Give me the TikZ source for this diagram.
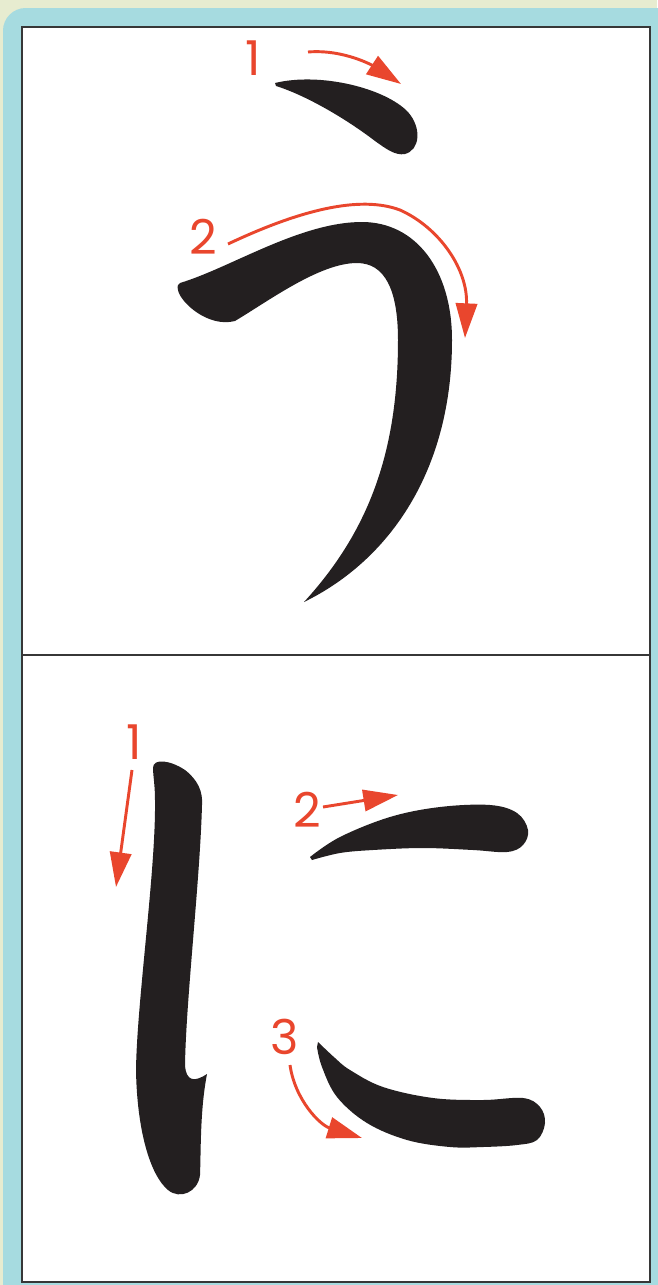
\documentclass[tikz,border=0pt]{standalone}
\usepackage{fontspec}
\setmainfont{Poppins}
\usetikzlibrary{arrows.meta}
\definecolor{bgbeige}{RGB}{231,236,208}
\definecolor{frameblue}{RGB}{166,219,224}
\definecolor{strokered}{RGB}{233,70,45}
\definecolor{inkcol}{RGB}{35,31,32}
\definecolor{panelline}{RGB}{55,55,55}
\begin{document}
\begin{tikzpicture}[x=0.75pt,y=-0.75pt,
  arr/.style={draw=strokered,line width=2.2pt,-{Triangle[length=26pt,width=16pt]}},
  num/.style={text=strokered,font=\fontsize{36}{36}\selectfont,inner sep=0pt},
  brush/.style={fill=inkcol}]
\useasboundingbox (0,0) rectangle (657,1285);
\fill[bgbeige] (0,0) rectangle (657,1285);
\fill[frameblue,rounded corners=17pt] (3,8) rectangle (690,1320);
\fill[white] (22,27) rectangle (650,1282);
\draw[panelline,line width=1.5pt] (22,27) rectangle (650,1282);
\draw[panelline,line width=1.5pt] (22,655) -- (650,655);

% ---- u : stroke 1
\fill[brush] (275,83) .. controls (320,72) and (385,88) .. (408,112)
  .. controls (422,128) and (420,150) .. (405,154)
  .. controls (395,156) and (385,148) .. (375,141)
  .. controls (345,118) and (305,95) .. (276,86) -- cycle;
% ---- u : stroke 2
\fill[brush] (180,283) .. controls (230,268) and (300,222) .. (362,222)
  .. controls (416,222) and (452,270) .. (452,340)
  .. controls (452,470) and (390,560) .. (304,602)
  .. controls (370,530) and (398,450) .. (398,340)
  .. controls (398,290) and (385,263) .. (357,263)
  .. controls (320,263) and (270,300) .. (235,321)
  .. controls (208,328) and (180,302) .. (178,290)
  .. controls (177,286) and (178,284) .. (180,283) -- cycle;

% ---- ni : stroke 1
\fill[brush] (153,768) .. controls (153,758) and (170,760) .. (185,770)
  .. controls (198,780) and (203,792) .. (202,805)
  .. controls (200,880) and (186,1000) .. (185,1065)
  .. controls (186,1082) and (195,1082) .. (207,1074)
  .. controls (200,1110) and (201,1150) .. (200,1175)
  .. controls (198,1192) and (180,1200) .. (168,1190)
  .. controls (150,1175) and (137,1130) .. (136,1070)
  .. controls (137,1000) and (156,870) .. (155,800)
  .. controls (155,785) and (153,775) .. (153,768) -- cycle;
% ---- ni : stroke 2
\fill[brush] plot[smooth,tension=0.6] coordinates {(310,857) (340,837) (390,817) (440,807) (490,805) (517,813) (528,830) (523,845) (507,852) (473,850) (423,848) (373,850) (340,853) (312,860)} -- cycle;
% ---- ni : stroke 3
\fill[brush] plot[smooth,tension=0.6] coordinates {(318,1042) (335,1058) (350,1070) (383,1087) (433,1098) (483,1100) (523,1098) (540,1107) (545,1123) (537,1140) (517,1145) (483,1147) (450,1147) (407,1140) (367,1123) (337,1097) (322,1067) (317,1047)} -- cycle;

% ---- numbers
\node[num] (n1a) at (253,58) {1};
\node[num] (n2a) at (203,237) {2};
\node[num] (n1b) at (134,742) {1};
\node[num] (n2b) at (307,810) {2};
\node[num] (n3b) at (285,1037) {3};

% ---- arrows
\coordinate (a1s) at (308,52);
\coordinate (a1e) at (401,84);
\draw[arr] (a1s) .. controls (345,49) and (375,67) .. (a1e);

\coordinate (a2s) at (228,244);
\coordinate (a2m) at (400,210);
\coordinate (a2e) at (465,338);
\draw[arr] (a2s) .. controls (300,210) and (360,195) .. (a2m) .. controls (440,228) and (468,270) .. (a2e);

\coordinate (b1s) at (132,770);
\coordinate (b1e) at (116,887);
\draw[arr] (b1s) -- (b1e);

\coordinate (b2s) at (323,807);
\coordinate (b2e) at (398,795);
\draw[arr] (b2s) -- (b2e);

\coordinate (b3s) at (290,1065);
\coordinate (b3e) at (362,1138);
\draw[arr] (b3s) .. controls (295,1100) and (320,1125) .. (b3e);
\end{tikzpicture}
\end{document}
